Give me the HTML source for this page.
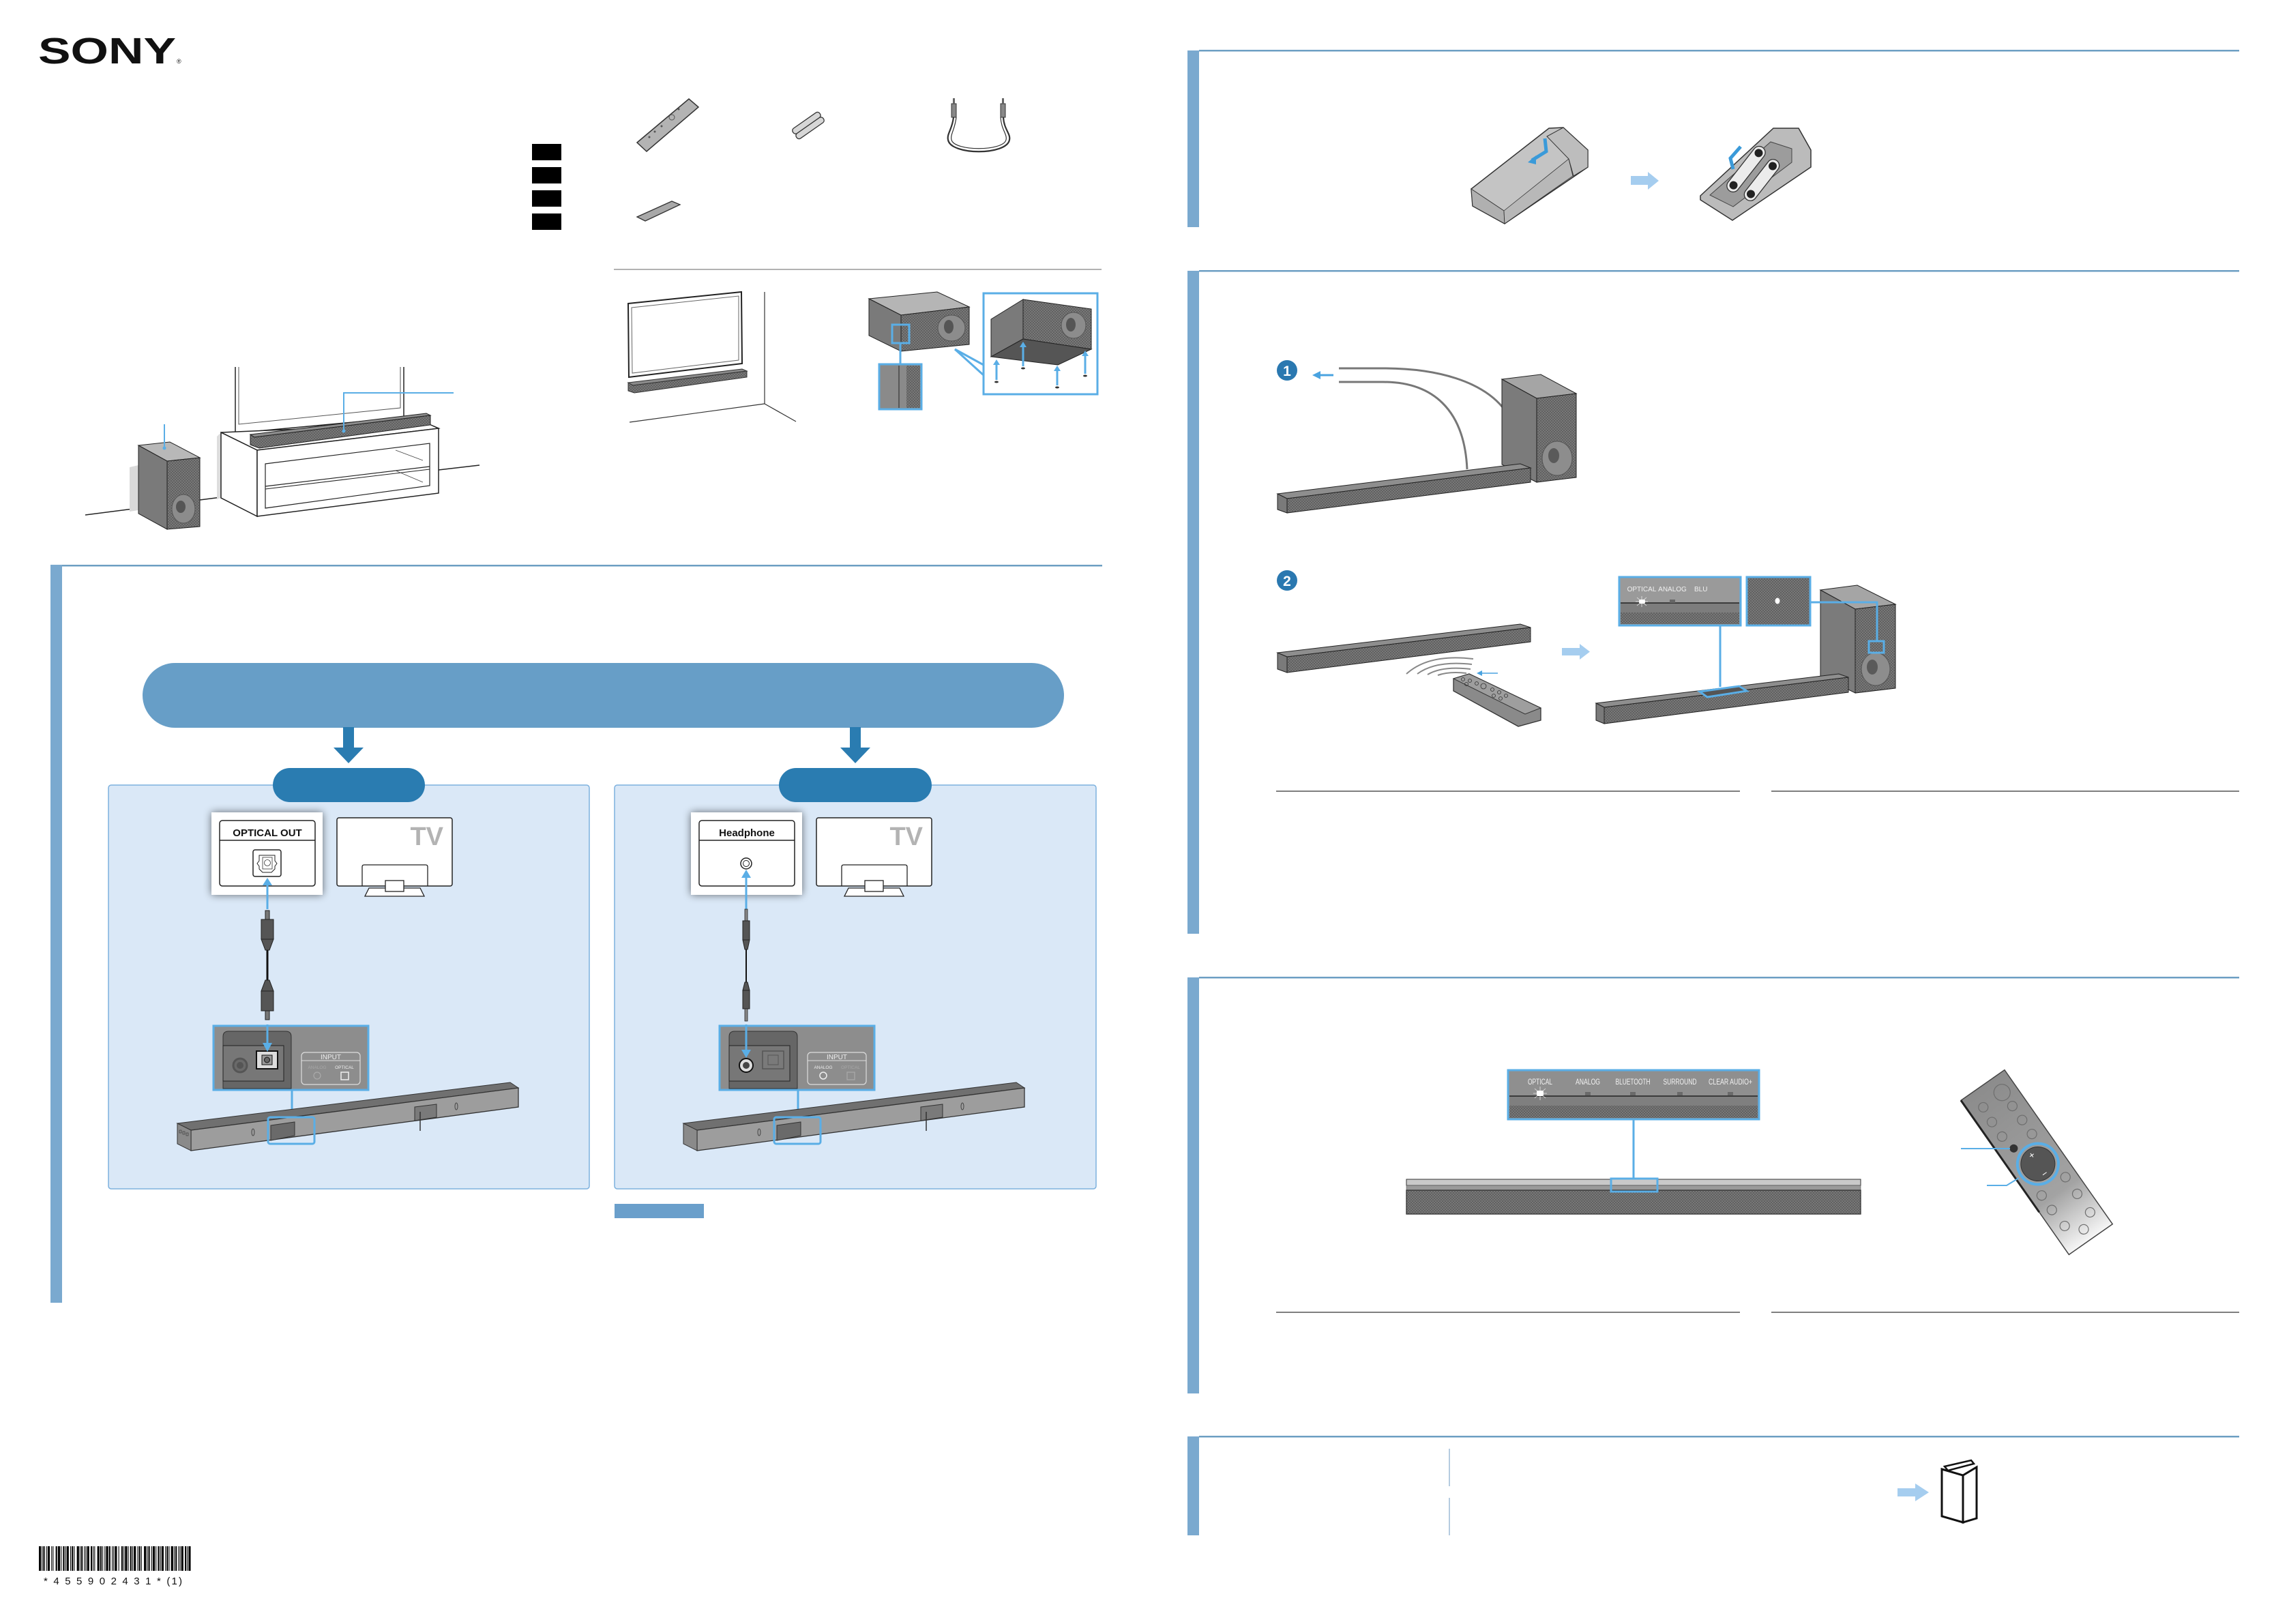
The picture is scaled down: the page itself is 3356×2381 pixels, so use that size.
<!DOCTYPE html>
<html><head><meta charset="utf-8"><style>
html,body{margin:0;padding:0;background:#fff;}
svg{display:block;}
text{font-family:"Liberation Sans",sans-serif;}
</style></head><body>
<svg width="3356" height="2381" viewBox="0 0 3356 2381" xmlns="http://www.w3.org/2000/svg">
<defs>
<pattern id="g" width="4" height="4" patternUnits="userSpaceOnUse"><rect width="4" height="4" fill="#616161"/><circle cx="1" cy="1" r="0.9" fill="#888"/><circle cx="3" cy="3" r="0.9" fill="#888"/></pattern>
<filter id="sh" x="-20%" y="-20%" width="140%" height="140%"><feGaussianBlur in="SourceAlpha" stdDeviation="6"/><feComponentTransfer><feFuncA type="linear" slope="0.55"/></feComponentTransfer><feMerge><feMergeNode/><feMergeNode in="SourceGraphic"/></feMerge></filter>
<linearGradient id="rg" x1="0" y1="0" x2="0" y2="1"><stop offset="0" stop-color="#8c8c8c"/><stop offset="0.7" stop-color="#a3a3a3"/><stop offset="1" stop-color="#f6f6f6"/></linearGradient>
</defs>

<!-- ===== SONY ===== -->
<text x="56" y="93" font-family="Liberation Serif, serif" font-weight="bold" font-size="54" textLength="202" lengthAdjust="spacingAndGlyphs" fill="#111">SONY</text>
<text x="259" y="93" font-size="9" fill="#111">®</text>

<!-- black squares -->
<rect x="780" y="211" width="43" height="24" fill="#000"/>
<rect x="780" y="245" width="43" height="24" fill="#000"/>
<rect x="780" y="279" width="43" height="24" fill="#000"/>
<rect x="780" y="313" width="43" height="24" fill="#000"/>

<!-- accessories -->
<polygon points="934,209 1010,145 1024,157 948,222" fill="#b3b3b3" stroke="#333" stroke-width="1.5"/>
<circle cx="985" cy="172" r="4" fill="none" stroke="#555"/>
<circle cx="970" cy="185" r="1.5" fill="#555"/><circle cx="960" cy="193" r="1.5" fill="#555"/><circle cx="995" cy="160" r="1.5" fill="#555"/><circle cx="952" cy="201" r="1.5" fill="#555"/>
<g transform="translate(1185,184) rotate(-35)">
<rect x="-24" y="-9" width="48" height="9" rx="4" fill="#d6d6d6" stroke="#333" stroke-width="1.3"/>
<rect x="-24" y="0" width="48" height="9" rx="4" fill="#d6d6d6" stroke="#333" stroke-width="1.3"/>
</g>
<path d="M1398,172 C1396,190 1388,196 1390,205 C1394,228 1476,228 1480,205 C1482,196 1472,190 1471,172" fill="none" stroke="#333" stroke-width="2.2"/>
<path d="M1402,172 C1400,190 1393,197 1395,205 C1399,222 1471,222 1475,205 C1477,197 1468,190 1467,172" fill="none" stroke="#333" stroke-width="1.2"/>
<rect x="1395" y="152" width="7" height="20" fill="#888" stroke="#333"/><rect x="1397" y="144" width="3" height="8" fill="#666"/>
<rect x="1467" y="152" width="7" height="20" fill="#888" stroke="#333"/><rect x="1469" y="144" width="3" height="8" fill="#666"/>
<polygon points="934,318 985,295 997,300 946,324" fill="#a8a8a8" stroke="#333" stroke-width="1.3"/>

<line x1="900" y1="395" x2="1615" y2="395" stroke="#999" stroke-width="1.5"/>

<!-- TV on wall -->
<polygon points="921,445 1087,428 1088,533 922,553" fill="#fff" stroke="#222" stroke-width="2"/>
<polygon points="926,451 1083,434 1083,528 927,547" fill="none" stroke="#666" stroke-width="1"/>
<polygon points="921,561 1088,541 1095,544 928,565" fill="#8a8a8a" stroke="#333"/>
<polygon points="928,565 1095,544 1095,553 930,576 921,573 921,561" fill="url(#g)" stroke="#333"/>
<line x1="1121" y1="428" x2="1121" y2="592" stroke="#333" stroke-width="1.2"/>
<line x1="923" y1="619" x2="1121" y2="592" stroke="#333" stroke-width="1.2"/>
<line x1="1121" y1="592" x2="1167" y2="618" stroke="#333" stroke-width="1.2"/>

<!-- subwoofer with feet -->
<polygon points="1274,438 1374,428 1421,450 1321,462" fill="#b5b5b5" stroke="#222"/>
<polygon points="1274,438 1321,462 1321,515 1274,492" fill="#7a7a7a" stroke="#222"/>
<polygon points="1321,462 1421,450 1421,505 1321,515" fill="url(#g)" stroke="#222"/>
<ellipse cx="1395" cy="481" rx="20" ry="19" fill="#8c8c8c" stroke="#555"/>
<ellipse cx="1391" cy="479" rx="7" ry="10" fill="#555"/>
<rect x="1308" y="476" width="25" height="27" fill="none" stroke="#5aaee6" stroke-width="3"/>
<line x1="1320" y1="503" x2="1320" y2="534" stroke="#5aaee6" stroke-width="3"/>
<rect x="1289" y="534" width="62" height="66" fill="#8a8a8a" stroke="#5aaee6" stroke-width="3"/>
<rect x="1329" y="536" width="20" height="62" fill="url(#g)"/>
<line x1="1318" y1="536" x2="1318" y2="598" stroke="#444" stroke-width="1.5"/>
<line x1="1400" y1="512" x2="1442" y2="535" stroke="#5aaee6" stroke-width="3"/>
<line x1="1400" y1="512" x2="1442" y2="550" stroke="#5aaee6" stroke-width="3"/>
<rect x="1442" y="430" width="167" height="148" fill="#fff" stroke="#5aaee6" stroke-width="3"/>
<polygon points="1453,468 1500,439 1500,497 1453,523" fill="#7a7a7a" stroke="#222"/>
<polygon points="1500,439 1600,453 1600,512 1500,497" fill="url(#g)" stroke="#222"/>
<polygon points="1453,523 1500,497 1600,512 1551,535" fill="#555" stroke="#222"/>
<ellipse cx="1574" cy="477" rx="18" ry="19" fill="#8c8c8c" stroke="#555"/>
<ellipse cx="1570" cy="476" rx="7" ry="10" fill="#555"/>
<g stroke="#5aaee6" stroke-width="3" fill="#5aaee6">
<line x1="1461" y1="557" x2="1461" y2="534"/><polygon points="1456,535 1466,535 1461,527" stroke="none"/>
<line x1="1500" y1="537" x2="1500" y2="508"/><polygon points="1495,509 1505,509 1500,501" stroke="none"/>
<line x1="1550" y1="565" x2="1550" y2="543"/><polygon points="1545,544 1555,544 1550,536" stroke="none"/>
<line x1="1591" y1="548" x2="1591" y2="521"/><polygon points="1586,522 1596,522 1591,514" stroke="none"/>
</g>
<ellipse cx="1461" cy="560" rx="3" ry="1.5" fill="#333"/><ellipse cx="1500" cy="540" rx="3" ry="1.5" fill="#333"/><ellipse cx="1550" cy="568" rx="3" ry="1.5" fill="#333"/><ellipse cx="1591" cy="551" rx="3" ry="1.5" fill="#333"/>

<!-- installation scene -->
<line x1="125" y1="755" x2="203" y2="745" stroke="#222" stroke-width="1.5"/>
<line x1="293" y1="733" x2="324" y2="729" stroke="#222" stroke-width="1.5"/>
<line x1="643" y1="689" x2="703" y2="682" stroke="#222" stroke-width="1.5"/>
<polygon points="190,685 203,682 203,748 190,750" fill="#d9d9d9"/>
<polygon points="203,653 249,648 293,671 245,676" fill="#b8b8b8" stroke="#222"/>
<polygon points="203,653 245,676 245,776 203,753" fill="#7a7a7a" stroke="#222"/>
<polygon points="245,676 293,671 293,772 245,776" fill="url(#g)" stroke="#222"/>
<ellipse cx="269" cy="746" rx="17" ry="21" fill="#8c8c8c" stroke="#555"/>
<ellipse cx="265" cy="743" rx="7" ry="9" fill="#555"/>
<line x1="241" y1="622" x2="241" y2="657" stroke="#5aaee6" stroke-width="2"/><circle cx="241" cy="657" r="2.5" fill="#5aaee6"/>
<path d="M345,538 V635 L592,612 V538" fill="#fff" stroke="#222" stroke-width="1.5"/>
<path d="M350,538 V622 L587,598 V538" fill="none" stroke="#555" stroke-width="1"/>
<polygon points="318,640 324,634 324,730 318,732" fill="#ddd"/>
<polygon points="324,634 627,621 643,628 377,660" fill="#fff" stroke="#222" stroke-width="1.5"/>
<polygon points="324,634 377,660 377,757 324,730" fill="#fff" stroke="#222" stroke-width="1.5"/>
<polygon points="377,660 643,628 643,723 377,757" fill="#fff" stroke="#222" stroke-width="1.5"/>
<polygon points="389,680 630,650 630,712 389,745" fill="#fff" stroke="#222" stroke-width="1.2"/>
<line x1="389" y1="713" x2="630" y2="684" stroke="#222" stroke-width="1.2"/>
<line x1="389" y1="717" x2="630" y2="688" stroke="#222" stroke-width="1"/>
<line x1="580" y1="660" x2="620" y2="675" stroke="#444" stroke-width="0.8"/>
<line x1="580" y1="690" x2="620" y2="707" stroke="#444" stroke-width="0.8"/>
<polygon points="367,637 625,606 631,609 373,641" fill="#8c8c8c" stroke="#222"/>
<polygon points="373,641 631,609 631,623 380,657 367,652 367,637" fill="url(#g)" stroke="#222"/>
<polyline points="504,632 504,576 665,576" fill="none" stroke="#5aaee6" stroke-width="2"/><circle cx="504" cy="632" r="2.5" fill="#5aaee6"/>

<!-- ===== Section A (left) ===== -->
<rect x="74" y="828" width="17" height="1082" fill="#7aa9cf"/>
<rect x="91" y="828" width="1525" height="2.5" fill="#6d9fc3"/>
<rect x="209" y="972" width="1351" height="95" rx="47.5" fill="#679ec7"/>
<rect x="503" y="1066" width="16" height="31" fill="#2a7cb1"/><polygon points="489,1096 533,1096 511,1119" fill="#2a7cb1"/>
<rect x="1246" y="1066" width="16" height="31" fill="#2a7cb1"/><polygon points="1232,1096 1276,1096 1254,1119" fill="#2a7cb1"/>

<rect x="159" y="1151" width="705" height="592" rx="4" fill="#dae8f7" stroke="#7db1de" stroke-width="1.5"/>
<rect x="901" y="1151" width="706" height="592" rx="4" fill="#dae8f7" stroke="#7db1de" stroke-width="1.5"/>
<rect x="400" y="1126" width="223" height="50" rx="25" fill="#2a7cb1"/>
<rect x="1142" y="1126" width="224" height="50" rx="25" fill="#2a7cb1"/>
<rect x="901" y="1765" width="131" height="21" fill="#6a9fcb"/>

<!-- left panel content -->
<rect x="310" y="1191" width="163" height="121" fill="#fff" filter="url(#sh)"/>
<rect x="322" y="1203" width="140" height="96" rx="4" fill="none" stroke="#222" stroke-width="1.5"/>
<line x1="322" y1="1232" x2="462" y2="1232" stroke="#222" stroke-width="1.5"/>
<text x="392" y="1226" font-size="15" font-weight="bold" text-anchor="middle" fill="#111">OPTICAL  OUT</text>
<rect x="371" y="1246" width="41" height="39" rx="3" fill="#fff" stroke="#222" stroke-width="1.5"/>
<path d="M380,1254 H403 V1262 L406,1266 L403,1270 V1274 L398,1279 H385 L380,1274 V1270 L377,1266 L380,1262Z" fill="#fff" stroke="#222"/>
<rect x="385" y="1257" width="14" height="17" fill="none" stroke="#333" stroke-width="0.8"/><circle cx="392" cy="1265" r="4.5" fill="none" stroke="#333" stroke-width="0.8"/>
<rect x="494" y="1199" width="169" height="100" rx="3" fill="#fff" stroke="#222" stroke-width="1.5"/>
<text x="650" y="1239" font-size="38" font-weight="bold" text-anchor="end" fill="#b3b3b3">TV</text>
<path d="M531,1299 V1271 Q531,1268 534,1268 H624 Q627,1268 627,1271 V1299" fill="none" stroke="#222" stroke-width="1.3"/>
<polygon points="541,1302 616,1302 622,1314 535,1314" fill="#fff" stroke="#222" stroke-width="1.3"/>
<rect x="565" y="1291" width="27" height="16" fill="#fff" stroke="#222" stroke-width="1.3"/>
<line x1="392" y1="1333" x2="392" y2="1297" stroke="#5aaee6" stroke-width="3"/><polygon points="385,1298 399,1298 392,1287" fill="#5aaee6"/>
<rect x="389" y="1335" width="6" height="13" fill="#777" stroke="#222"/>
<rect x="383" y="1348" width="18" height="29" fill="#555" stroke="#222"/>
<polygon points="383,1377 401,1377 395,1393 389,1393" fill="#555" stroke="#222"/>
<line x1="392" y1="1393" x2="392" y2="1437" stroke="#111" stroke-width="3"/>
<polygon points="389,1437 395,1437 401,1453 383,1453" fill="#555" stroke="#222"/>
<rect x="383" y="1453" width="18" height="29" fill="#555" stroke="#222"/>
<rect x="389" y="1482" width="6" height="13" fill="#777" stroke="#222"/>
<rect x="313" y="1504" width="227" height="94" fill="#8d8d8d" stroke="#5aaee6" stroke-width="3"/>
<path d="M327,1596 V1520 Q327,1512 335,1512 H419 Q427,1512 427,1520 V1596Z" fill="#666" stroke="#333"/>
<rect x="327" y="1533" width="89" height="52" fill="#777" stroke="#222"/>
<circle cx="352" cy="1562" r="10" fill="#6a6a6a" stroke="#555" stroke-width="3"/><circle cx="352" cy="1562" r="5" fill="#555"/>
<rect x="376" y="1541" width="31" height="26" fill="#ddd" stroke="#111" stroke-width="2"/><rect x="384" y="1547" width="15" height="14" fill="#999" stroke="#111"/><circle cx="391.5" cy="1554" r="4" fill="#666" stroke="#111"/>
<line x1="392" y1="1502" x2="392" y2="1530" stroke="#5aaee6" stroke-width="3"/><polygon points="385,1529 399,1529 392,1542" fill="#5aaee6"/>
<rect x="442" y="1543" width="86" height="47" rx="5" fill="none" stroke="#ddd" stroke-width="1.2"/>
<line x1="442" y1="1555" x2="528" y2="1555" stroke="#ddd"/>
<text x="485" y="1553" font-size="10" text-anchor="middle" fill="#eee">INPUT</text>
<text x="465" y="1567" font-size="6.5" text-anchor="middle" fill="#a8a8a8">ANALOG</text>
<text x="505" y="1567" font-size="6.5" text-anchor="middle" fill="#eee">OPTICAL</text>
<circle cx="465" cy="1577" r="5" fill="none" stroke="#aaa" stroke-width="1.2"/>
<rect x="500" y="1572" width="11" height="11" fill="none" stroke="#eee" stroke-width="1.5"/>
<line x1="428" y1="1598" x2="428" y2="1638" stroke="#5aaee6" stroke-width="3"/>
<polygon points="260,1647 748,1587 760,1595 280,1657" fill="#707070" stroke="#333"/>
<polygon points="280,1657 760,1595 760,1623 280,1687" fill="#9d9d9d" stroke="#333" stroke-width="1.3"/>
<polygon points="260,1647 280,1657 280,1687 260,1677" fill="#8a8a8a" stroke="#333"/>
<rect x="263" y="1657" width="3" height="4" fill="none" stroke="#333" stroke-width="0.6"/><rect x="268" y="1659" width="3" height="4" fill="none" stroke="#333" stroke-width="0.6"/><rect x="273" y="1661" width="3" height="4" fill="none" stroke="#333" stroke-width="0.6"/>
<polygon points="397,1650 432,1645 432,1665 397,1672" fill="#6a6a6a" stroke="#333"/>
<polygon points="608,1623 640,1619 640,1638 608,1643" fill="#7a7a7a" stroke="#333"/>
<line x1="616" y1="1630" x2="616" y2="1658" stroke="#333" stroke-width="1.5"/>
<ellipse cx="371" cy="1660" rx="2" ry="5" fill="none" stroke="#444"/><ellipse cx="669" cy="1622" rx="2" ry="5" fill="none" stroke="#444"/>
<rect x="393" y="1638" width="68" height="39" rx="3" fill="none" stroke="#5aaee6" stroke-width="3"/>

<!-- right panel content -->
<rect x="1013" y="1191" width="163" height="121" fill="#fff" filter="url(#sh)"/>
<rect x="1025" y="1203" width="140" height="96" rx="4" fill="none" stroke="#222" stroke-width="1.5"/>
<line x1="1025" y1="1232" x2="1165" y2="1232" stroke="#222" stroke-width="1.5"/>
<text x="1095" y="1226" font-size="15" font-weight="bold" text-anchor="middle" fill="#111">Headphone</text>
<circle cx="1094" cy="1266" r="8" fill="#fff" stroke="#222" stroke-width="1.5"/><circle cx="1094" cy="1266" r="4.5" fill="none" stroke="#222"/>
<rect x="1197" y="1199" width="169" height="100" rx="3" fill="#fff" stroke="#222" stroke-width="1.5"/>
<text x="1353" y="1239" font-size="38" font-weight="bold" text-anchor="end" fill="#b3b3b3">TV</text>
<path d="M1234,1299 V1271 Q1234,1268 1237,1268 H1327 Q1330,1268 1330,1271 V1299" fill="none" stroke="#222" stroke-width="1.3"/>
<polygon points="1244,1302 1319,1302 1325,1314 1238,1314" fill="#fff" stroke="#222" stroke-width="1.3"/>
<rect x="1268" y="1291" width="27" height="16" fill="#fff" stroke="#222" stroke-width="1.3"/>
<line x1="1094" y1="1333" x2="1094" y2="1286" stroke="#5aaee6" stroke-width="3"/><polygon points="1087,1287 1101,1287 1094,1275" fill="#5aaee6"/>
<rect x="1092" y="1333" width="4" height="17" fill="#888" stroke="#222" stroke-width="0.8"/>
<rect x="1089" y="1350" width="10" height="28" fill="#555" stroke="#222"/>
<polygon points="1089,1378 1099,1378 1096,1392 1092,1392" fill="#555" stroke="#222"/>
<line x1="1094" y1="1392" x2="1094" y2="1440" stroke="#111" stroke-width="2"/>
<polygon points="1092,1440 1096,1440 1099,1452 1089,1452" fill="#555" stroke="#222"/>
<rect x="1089" y="1452" width="10" height="27" fill="#555" stroke="#222"/>
<rect x="1092" y="1479" width="4" height="18" fill="#888" stroke="#222" stroke-width="0.8"/>
<rect x="1055" y="1504" width="227" height="94" fill="#8d8d8d" stroke="#5aaee6" stroke-width="3"/>
<path d="M1069,1596 V1520 Q1069,1512 1077,1512 H1161 Q1169,1512 1169,1520 V1596Z" fill="#666" stroke="#333"/>
<rect x="1069" y="1533" width="89" height="52" fill="#777" stroke="#222"/>
<circle cx="1094" cy="1562" r="10" fill="#ddd" stroke="#111" stroke-width="2"/><circle cx="1094" cy="1562" r="5" fill="#444"/>
<rect x="1118" y="1541" width="31" height="26" fill="#7a7a7a" stroke="#555" stroke-width="1.5"/><rect x="1126" y="1547" width="15" height="14" fill="none" stroke="#555"/>
<line x1="1094" y1="1502" x2="1094" y2="1540" stroke="#5aaee6" stroke-width="3"/><polygon points="1087,1539 1101,1539 1094,1551" fill="#5aaee6"/>
<rect x="1184" y="1543" width="86" height="47" rx="5" fill="none" stroke="#ddd" stroke-width="1.2"/>
<line x1="1184" y1="1555" x2="1270" y2="1555" stroke="#ddd"/>
<text x="1227" y="1553" font-size="10" text-anchor="middle" fill="#eee">INPUT</text>
<text x="1207" y="1567" font-size="6.5" text-anchor="middle" fill="#eee">ANALOG</text>
<text x="1247" y="1567" font-size="6.5" text-anchor="middle" fill="#a8a8a8">OPTICAL</text>
<circle cx="1207" cy="1577" r="5" fill="none" stroke="#eee" stroke-width="1.5"/>
<rect x="1242" y="1572" width="11" height="11" fill="none" stroke="#aaa" stroke-width="1.2"/>
<line x1="1170" y1="1598" x2="1170" y2="1638" stroke="#5aaee6" stroke-width="3"/>
<polygon points="1002,1647 1490,1587 1502,1595 1022,1657" fill="#707070" stroke="#333"/>
<polygon points="1022,1657 1502,1595 1502,1623 1022,1687" fill="#9d9d9d" stroke="#333" stroke-width="1.3"/>
<polygon points="1002,1647 1022,1657 1022,1687 1002,1677" fill="#8a8a8a" stroke="#333"/>
<polygon points="1139,1650 1174,1645 1174,1665 1139,1672" fill="#6a6a6a" stroke="#333"/>
<polygon points="1350,1623 1382,1619 1382,1638 1350,1643" fill="#7a7a7a" stroke="#333"/>
<line x1="1358" y1="1630" x2="1358" y2="1658" stroke="#333" stroke-width="1.5"/>
<ellipse cx="1113" cy="1660" rx="2" ry="5" fill="none" stroke="#444"/><ellipse cx="1411" cy="1622" rx="2" ry="5" fill="none" stroke="#444"/>
<rect x="1135" y="1638" width="68" height="39" rx="3" fill="none" stroke="#5aaee6" stroke-width="3"/>

<!-- ===== Section B ===== -->
<rect x="1741" y="74" width="17" height="259" fill="#7aa9cf"/>
<rect x="1758" y="73" width="1525" height="2.5" fill="#6d9fc3"/>
<polygon points="2157,277 2271,188 2292,187 2328,220 2328,245 2206,328 2159,302" fill="#c4c4c4" stroke="#333" stroke-width="1.5"/>
<polygon points="2157,277 2205,309 2206,328 2159,302" fill="#b0b0b0" stroke="#333"/>
<polygon points="2205,309 2300,233 2306,258 2206,328" fill="#b8b8b8" stroke="#333" stroke-width="0.8"/>
<polygon points="2268,200 2292,187 2328,220 2328,245 2307,258 2300,233" fill="#bdbdbd" stroke="#333"/>
<path d="M2265,203 L2267,222 L2246,235" fill="none" stroke="#3a9ad9" stroke-width="5"/><polygon points="2240,238 2252,228 2252,241" fill="#3a9ad9"/>
<polygon points="2391,258 2416,258 2416,252 2432,265 2416,278 2416,271 2391,271" fill="#a5cdef"/>
<polygon points="2493,287 2600,188 2637,188 2655,220 2655,245 2540,323 2493,293" fill="#bbb" stroke="#333" stroke-width="1.5"/>
<polygon points="2507,286 2596,208 2627,218 2627,238 2541,303" fill="#9c9c9c" stroke="#444"/>
<g transform="translate(2560,248) rotate(-52)"><rect x="-40" y="-9" width="80" height="18" rx="9" fill="#ececec" stroke="#333" stroke-width="1.3"/><circle cx="-30" cy="0" r="6" fill="#222"/><circle cx="30" cy="0" r="6" fill="#222"/></g>
<g transform="translate(2583,264) rotate(-52)"><rect x="-36" y="-9" width="72" height="18" rx="9" fill="#ececec" stroke="#333" stroke-width="1.3"/><circle cx="-26" cy="0" r="6" fill="#222"/><circle cx="26" cy="0" r="6" fill="#222"/></g>
<path d="M2552,215 L2537,232 L2541,248" fill="none" stroke="#3a9ad9" stroke-width="5"/>

<!-- ===== Section C ===== -->
<rect x="1741" y="397" width="17" height="972" fill="#7aa9cf"/>
<rect x="1758" y="396" width="1525" height="2.5" fill="#6d9fc3"/>
<circle cx="1887" cy="543" r="15" fill="#2a78b0"/><text x="1887" y="551" font-size="21" font-weight="bold" text-anchor="middle" fill="#fff">1</text>
<line x1="1933" y1="550" x2="1955" y2="550" stroke="#4aa3e0" stroke-width="3"/><polygon points="1924,550 1936,544 1936,556" fill="#4aa3e0"/>
<path d="M1963,540 H2028 C2110,540 2172,560 2203,597" fill="none" stroke="#777" stroke-width="3"/>
<path d="M1963,560 H2028 C2100,560 2147,600 2151,688" fill="none" stroke="#777" stroke-width="3"/>
<polygon points="2202,556 2259,549 2311,577 2253,584" fill="#a5a5a5" stroke="#222"/>
<polygon points="2202,556 2253,584 2253,707 2202,681" fill="#7b7b7b" stroke="#222"/>
<polygon points="2253,584 2311,577 2311,700 2253,707" fill="url(#g)" stroke="#222"/>
<ellipse cx="2283" cy="672" rx="22" ry="25" fill="#8d8d8d" stroke="#555"/><ellipse cx="2278" cy="668" rx="8" ry="11" fill="#5a5a5a"/>
<polygon points="1873,724 2229,680 2244,686 1887,731" fill="#8e8e8e" stroke="#222"/>
<polygon points="1887,731 2244,686 2244,707 1887,752" fill="url(#g)" stroke="#222"/>
<polygon points="1873,724 1887,731 1887,752 1873,747" fill="#7a7a7a" stroke="#222"/>

<circle cx="1887" cy="851" r="15" fill="#2a78b0"/><text x="1887" y="859" font-size="21" font-weight="bold" text-anchor="middle" fill="#fff">2</text>
<polygon points="1873,957 2229,915 2244,920 1887,963" fill="#8e8e8e" stroke="#222"/>
<polygon points="1887,963 2244,920 2244,941 1887,986" fill="url(#g)" stroke="#222"/>
<polygon points="1873,957 1887,963 1887,986 1873,981" fill="#7a7a7a" stroke="#222"/>
<g fill="none" stroke="#888" stroke-width="2">
<path d="M2062,988 Q2095,958 2160,966"/><path d="M2078,988 Q2105,968 2158,974"/><path d="M2093,989 Q2115,976 2156,981"/><path d="M2108,990 Q2125,984 2150,987"/>
</g>
<polygon points="2131,995 2154,988 2259,1038 2259,1056 2226,1065 2131,1013" fill="#8a8a8a" stroke="#333" stroke-width="1.3"/>
<polygon points="2131,995 2154,988 2259,1038 2236,1047" fill="#9e9e9e" stroke="#333"/>
<g fill="none" stroke="#333" stroke-width="0.8"><circle cx="2145" cy="996" r="2.5"/><circle cx="2155" cy="998" r="2.5"/><circle cx="2165" cy="1002" r="2.5"/><circle cx="2175" cy="1006" r="4"/><circle cx="2188" cy="1011" r="2.5"/><circle cx="2198" cy="1015" r="2.5"/><circle cx="2208" cy="1020" r="2.5"/><circle cx="2150" cy="1003" r="2.5"/><circle cx="2190" cy="1020" r="2.5"/><circle cx="2200" cy="1024" r="2.5"/></g>
<line x1="2172" y1="987" x2="2196" y2="987" stroke="#4aa3e0" stroke-width="1.5"/><polygon points="2165,987 2173,983 2173,991" fill="#4aa3e0"/>
<polygon points="2290,950 2316,950 2316,944 2331,955.5 2316,967 2316,961 2290,961" fill="#a5cdef"/>
<rect x="2374" y="846" width="178" height="71" fill="#9a9a9a" stroke="#5aaee6" stroke-width="3"/>
<rect x="2376" y="884" width="174" height="14" fill="#7d7d7d"/>
<rect x="2376" y="898" width="174" height="17" fill="url(#g)"/>
<line x1="2376" y1="884" x2="2550" y2="884" stroke="#222" stroke-width="1.5"/>
<text x="2407" y="867" font-size="10" text-anchor="middle" fill="#f0f0f0">OPTICAL</text>
<text x="2452" y="867" font-size="10" text-anchor="middle" fill="#f0f0f0">ANALOG</text>
<text x="2484" y="867" font-size="10" fill="#f0f0f0">BLU</text>
<g stroke="#fff" stroke-width="0.8" opacity="0.8"><line x1="2398" y1="882" x2="2416" y2="882"/><line x1="2407" y1="874" x2="2407" y2="890"/><line x1="2400" y1="876" x2="2414" y2="888"/><line x1="2414" y1="876" x2="2400" y2="888"/></g>
<rect x="2403" y="879" width="9" height="6" rx="2" fill="#fff"/>
<rect x="2448" y="879" width="8" height="5" fill="#666"/>
<rect x="2561" y="846" width="93" height="71" fill="url(#g)" stroke="#5aaee6" stroke-width="3"/>
<ellipse cx="2606" cy="881" rx="3.5" ry="4.5" fill="#fff"/>
<polygon points="2669,865 2723,858 2779,886 2720,893" fill="#a5a5a5" stroke="#222"/>
<polygon points="2669,865 2720,893 2720,1016 2669,991" fill="#7b7b7b" stroke="#222"/>
<polygon points="2720,893 2779,886 2779,1009 2720,1016" fill="url(#g)" stroke="#222"/>
<ellipse cx="2750" cy="981" rx="21" ry="24" fill="#8d8d8d" stroke="#555"/><ellipse cx="2745" cy="978" rx="8" ry="11" fill="#5a5a5a"/>
<polyline points="2654,883 2752,883 2752,940" fill="none" stroke="#5aaee6" stroke-width="3"/>
<rect x="2740" y="940" width="22" height="17" fill="none" stroke="#5aaee6" stroke-width="3"/>
<polygon points="2340,1031 2696,988 2710,993 2352,1037" fill="#8e8e8e" stroke="#222"/>
<polygon points="2352,1037 2710,993 2710,1015 2352,1061" fill="url(#g)" stroke="#222"/>
<polygon points="2340,1031 2352,1037 2352,1061 2340,1056" fill="#7a7a7a" stroke="#222"/>
<line x1="2522" y1="917" x2="2522" y2="1007" stroke="#5aaee6" stroke-width="3"/>
<polygon points="2492,1014 2550,1006 2561,1013 2503,1022" fill="#555" stroke="#5aaee6" stroke-width="3"/>
<line x1="1871" y1="1160" x2="2551" y2="1160" stroke="#555" stroke-width="1.5"/>
<line x1="2597" y1="1160" x2="3283" y2="1160" stroke="#555" stroke-width="1.5"/>

<!-- ===== Section D ===== -->
<rect x="1741" y="1433" width="17" height="610" fill="#7aa9cf"/>
<rect x="1758" y="1432" width="1525" height="2.5" fill="#6d9fc3"/>
<rect x="2211" y="1569" width="368" height="72" fill="#8f8f8f" stroke="#5aaee6" stroke-width="3"/>
<rect x="2213" y="1607" width="364" height="14" fill="#7f7f7f"/>
<rect x="2213" y="1621" width="364" height="18" fill="url(#g)"/>
<line x1="2213" y1="1607" x2="2577" y2="1607" stroke="#222" stroke-width="1.5"/>
<g font-size="12" fill="#f2f2f2" text-anchor="middle">
<text x="2258" y="1590" textLength="36" lengthAdjust="spacingAndGlyphs">OPTICAL</text>
<text x="2328" y="1590" textLength="36" lengthAdjust="spacingAndGlyphs">ANALOG</text>
<text x="2394" y="1590" textLength="51" lengthAdjust="spacingAndGlyphs">BLUETOOTH</text>
<text x="2463" y="1590" textLength="49" lengthAdjust="spacingAndGlyphs">SURROUND</text>
<text x="2537" y="1590" textLength="64" lengthAdjust="spacingAndGlyphs">CLEAR AUDIO+</text>
</g>
<g stroke="#fff" stroke-width="0.8" opacity="0.8"><line x1="2248" y1="1603" x2="2268" y2="1603"/><line x1="2258" y1="1593" x2="2258" y2="1613"/><line x1="2250" y1="1596" x2="2266" y2="1610"/><line x1="2266" y1="1596" x2="2250" y2="1610"/></g>
<rect x="2253" y="1599" width="10" height="8" rx="2" fill="#fff"/>
<rect x="2324" y="1601" width="8" height="5" fill="#6a6a6a"/><rect x="2390" y="1601" width="8" height="5" fill="#6a6a6a"/><rect x="2459" y="1601" width="8" height="5" fill="#6a6a6a"/><rect x="2533" y="1601" width="8" height="5" fill="#6a6a6a"/>
<line x1="2395" y1="1641" x2="2395" y2="1728" stroke="#5aaee6" stroke-width="3"/>
<rect x="2062" y="1729" width="666" height="9" fill="#c9c9c9" stroke="#333"/>
<rect x="2062" y="1738" width="666" height="7" fill="#9a9a9a" stroke="#555" stroke-width="0.6"/>
<rect x="2062" y="1745" width="666" height="35" fill="url(#g)" stroke="#333" stroke-width="1.3"/>
<rect x="2362" y="1728" width="68" height="19" fill="none" stroke="#5aaee6" stroke-width="3"/>
<g transform="translate(2907,1591) rotate(-35)">
<rect x="-39" y="0" width="78" height="276" fill="url(#rg)" stroke="#444" stroke-width="1.5"/>
<line x1="-39" y1="0" x2="-39" y2="200" stroke="#222" stroke-width="3"/>
<g fill="none" stroke="#6e6e6e" stroke-width="1.2">
<circle cx="17" cy="25" r="12"/><circle cx="-18" cy="27" r="7"/><circle cx="18" cy="50" r="7"/><circle cx="-20" cy="52" r="7"/><circle cx="18" cy="75" r="7"/><circle cx="-20" cy="78" r="7"/><circle cx="18" cy="100" r="7"/>
<circle cx="-22" cy="182" r="7"/><circle cx="22" cy="180" r="7"/><circle cx="-22" cy="208" r="7"/><circle cx="22" cy="210" r="7"/><circle cx="-20" cy="238" r="7"/><circle cx="22" cy="243" r="7"/><circle cx="0" cy="258" r="7"/>
</g>
<circle cx="-16" cy="102" r="6" fill="#333"/>
<circle cx="0" cy="141" r="30" fill="none" stroke="#5aaee6" stroke-width="4"/>
<circle cx="0" cy="141" r="25" fill="#555" stroke="#333"/>
<text x="0" y="130" font-size="14" fill="#fff" text-anchor="middle">+</text>
<text x="0" y="163" font-size="14" fill="#fff" text-anchor="middle">−</text>
</g>
<line x1="2875" y1="1684" x2="2947" y2="1684" stroke="#5aaee6" stroke-width="2"/>
<polyline points="2913,1738 2942,1738 2960,1727" fill="none" stroke="#5aaee6" stroke-width="2"/>
<line x1="1871" y1="1924" x2="2551" y2="1924" stroke="#555" stroke-width="1.5"/>
<line x1="2597" y1="1924" x2="3283" y2="1924" stroke="#555" stroke-width="1.5"/>

<!-- ===== Section E ===== -->
<rect x="1741" y="2106" width="17" height="145" fill="#7aa9cf"/>
<rect x="1758" y="2105" width="1525" height="2.5" fill="#6d9fc3"/>
<line x1="2125" y1="2124" x2="2125" y2="2179" stroke="#9dbbd6" stroke-width="1.5"/>
<line x1="2125" y1="2196" x2="2125" y2="2251" stroke="#9dbbd6" stroke-width="1.5"/>
<polygon points="2782,2182 2808,2182 2808,2175 2828,2188 2808,2201 2808,2194 2782,2194" fill="#a5cdef"/>
<polygon points="2851,2150 2890,2141 2894,2146 2856,2156" fill="#fff" stroke="#111" stroke-width="2.5"/>
<polygon points="2878,2163 2898,2151 2898,2226 2878,2232" fill="#fff" stroke="#111" stroke-width="3"/>
<polygon points="2847,2154 2878,2163 2878,2232 2847,2223" fill="#fff" stroke="#111" stroke-width="3"/>

<!-- ===== barcode ===== -->
<g transform="translate(57,0) scale(1.07,1) translate(-57,0)">
<path fill="#000" d="M57,2267 h3v36h-3zm4,0 h1v36h-1zm2,0 h2v36h-2zm4,0 h1v36h-1zm2,0 h3v36h-3zm5,0 h1v36h-1zm2,0 h1v36h-1zm4,0 h2v36h-2zm3,0 h3v36h-3zm4,0 h1v36h-1zm3,0 h2v36h-2zm3,0 h1v36h-1zm2,0 h3v36h-3zm5,0 h1v36h-1zm2,0 h2v36h-2zm3,0 h1v36h-1zm4,0 h3v36h-3zm4,0 h1v36h-1zm2,0 h2v36h-2zm4,0 h1v36h-1zm2,0 h1v36h-1zm2,0 h3v36h-3zm5,0 h2v36h-2zm3,0 h1v36h-1zm2,0 h1v36h-1zm4,0 h3v36h-3zm4,0 h2v36h-2zm3,0 h1v36h-1zm3,0 h1v36h-1zm2,0 h3v36h-3zm4,0 h2v36h-2zm4,0 h1v36h-1zm2,0 h1v36h-1zm2,0 h3v36h-3zm5,0 h1v36h-1zm4,0 h2v36h-2zm3,0 h1v36h-1zm2,0 h3v36h-3zm4,0 h1v36h-1zm3,0 h2v36h-2zm3,0 h1v36h-1zm2,0 h3v36h-3zm5,0 h1v36h-1zm2,0 h2v36h-2zm3,0 h1v36h-1zm4,0 h3v36h-3zm4,0 h1v36h-1zm2,0 h2v36h-2zm4,0 h1v36h-1zm2,0 h3v36h-3zm4,0 h1v36h-1zm3,0 h2v36h-2zm3,0 h1v36h-1zm2,0 h3v36h-3zm5,0 h1v36h-1zm2,0 h2v36h-2zm3,0 h1v36h-1zm3,0 h3v36h-3zm4,0 h1v36h-1zm2,0 h2v36h-2zm4,0 h1v36h-1zm2,0 h1v36h-1zm2,0 h3v36h-3zm5,0 h2v36h-2zm3,0 h1v36h-1zm2,0 h3v36h-3z"/>
</g>
<text x="64" y="2323" font-size="15" fill="#111" textLength="203" lengthAdjust="spacing">* 4 5 5 9 0 2 4 3 1 * (1)</text>
</svg>
</body></html>
